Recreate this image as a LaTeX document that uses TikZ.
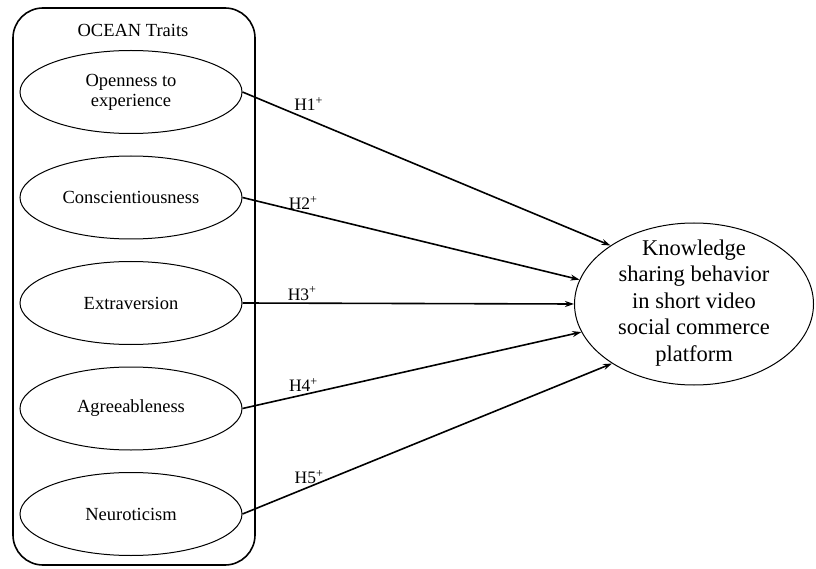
\documentclass[tikz,border=0pt]{standalone}
\usepackage{fontspec}
\setmainfont{Liberation Serif}
\usetikzlibrary{shapes.geometric,arrows.meta}

\begin{document}
\begin{tikzpicture}[x=1pt,y=-1pt,
  trait/.style={draw,ellipse,line width=1pt,minimum width=222pt,minimum height=83pt,inner sep=0pt,align=center,font=\fontsize{18.5}{20}\selectfont},
  hyp/.style={line width=1.6pt,-{Stealth[length=9pt,width=6pt]}},
  hlabel/.style={pos=0.18,above,inner sep=2pt,font=\fontsize{17.5}{20}\selectfont}]
  \useasboundingbox (0,0) rectangle (816,569);

  % the OCEAN group
  \node[draw,line width=1.6pt,rounded corners=30pt,minimum width=242pt,minimum height=557pt] (ocean) at (134,286.5) {};
  \node[font=\fontsize{18.5}{20}\selectfont] (oceantitle) at (133,30) {OCEAN Traits};

  \node[trait] (open) at (131,92) {Openness to\\experience};
  \node[trait] (consc) at (131,197.5) {Conscientiousness};
  \node[trait] (extra) at (131,303) {Extraversion};
  \node[trait] (agree) at (131,408.5) {Agreeableness};
  \node[trait] (neuro) at (131,514) {Neuroticism};

  % outcome
  \node[draw,ellipse,line width=1pt,minimum width=239pt,minimum height=162pt] (ksb) at (694,304) {};
  \node[align=center,font=\fontsize{22.5}{26.5}\selectfont] (ksbtext) at (694,303) {Knowledge\\sharing behavior\\in short video\\social commerce\\platform};

  \draw[hyp] (open.east) -- (ksb.145) node[hlabel,yshift=6pt] (h1) {H1\textsuperscript{+}};
  \draw[hyp] (consc.east) -- (ksb.168) node[hlabel] (h2) {H2\textsuperscript{+}};
  \draw[hyp] (extra.east) -- (ksb.180) node[hlabel] (h3) {H3\textsuperscript{+}};
  \draw[hyp] (agree.east) -- (ksb.194) node[hlabel] (h4) {H4\textsuperscript{+}};
  \draw[hyp] (neuro.east) -- (ksb.216) node[hlabel] (h5) {H5\textsuperscript{+}};
\end{tikzpicture}
\end{document}
